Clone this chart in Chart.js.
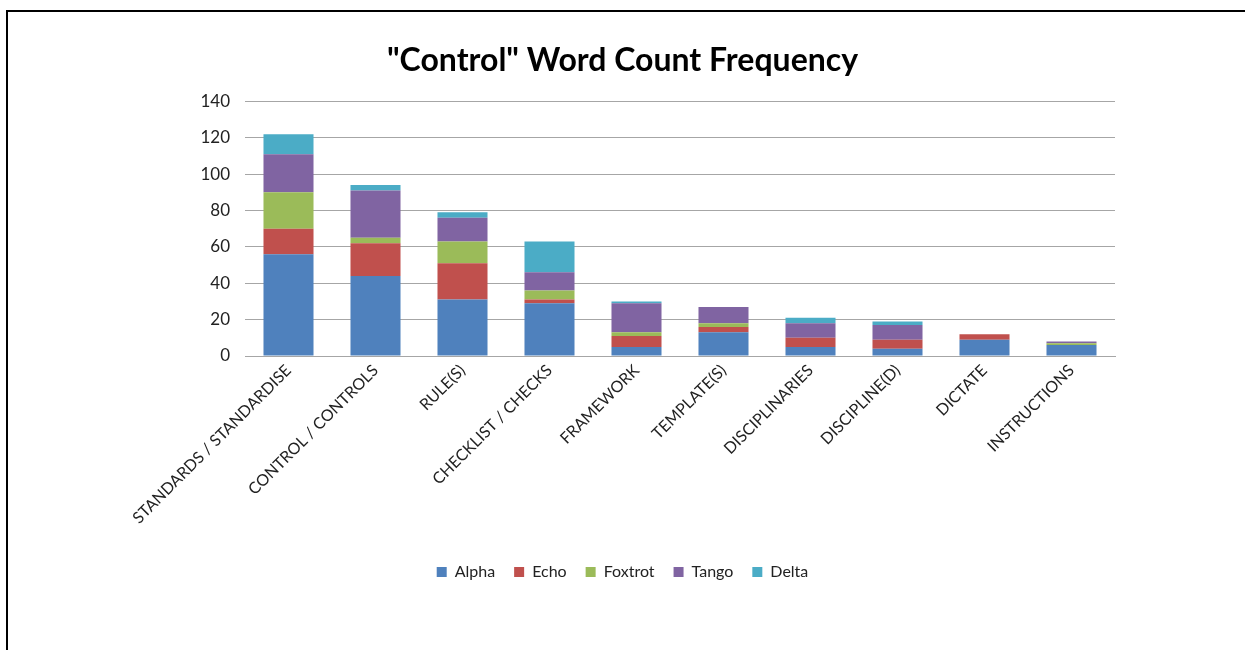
<!DOCTYPE html>
<html>
<head>
<meta charset="utf-8">
<script src="https://cdn.jsdelivr.net/npm/chart.js@4/dist/chart.umd.min.js"></script>
<style>
    html, body { margin: 0; padding: 0; background: #fff; }
    #frame {
        position: absolute; left: 6px; top: 10px; width: 1300px; height: 700px;
        border-left: 2px solid #000; border-top: 2px solid #000;
    }
    #wrap { position: absolute; left: 0; top: 0; width: 1245px; height: 650px; }
</style>
</head>
<body>
<div id="frame"></div>
<div id="wrap"><canvas id="chart" width="1245" height="650"></canvas></div>
<script>
// Chart data
const categories = [
    'STANDARDS / STANDARDISE', 'CONTROL / CONTROLS', 'RULE(S)', 'CHECKLIST / CHECKS',
    'FRAMEWORK', 'TEMPLATE(S)', 'DISCIPLINARIES', 'DISCIPLINE(D)', 'DICTATE', 'INSTRUCTIONS'
];
const alpha   = [56, 44, 31, 29, 5, 13, 5, 4, 9, 6];
const echo    = [14, 18, 20, 2, 6, 3, 5, 5, 3, 0];
const foxtrot = [20, 3, 12, 5, 2, 2, 0, 0, 0, 1];
const tango   = [21, 26, 13, 10, 16, 9, 8, 8, 0, 1];
const delta   = [11, 3, 3, 17, 1, 0, 3, 2, 0, 0];
const yTicks  = [0, 20, 40, 60, 80, 100, 120, 140];

const FONT = 'Lato, "Open Sans", sans-serif';

function series(label, data, color) {
    return {
        label: label,
        data: data,
        backgroundColor: color,
        borderWidth: 0,
        categoryPercentage: 1,
        barPercentage: 0.575
    };
}

new Chart(document.getElementById('chart').getContext('2d'), {
    type: 'bar',
    data: {
        labels: categories,
        datasets: [
            series('Alpha', alpha, '#4F81BD'),
            series('Echo', echo, '#C0504D'),
            series('Foxtrot', foxtrot, '#9BBB59'),
            series('Tango', tango, '#8064A2'),
            series('Delta', delta, '#4BACC6')
        ]
    },
    options: {
        responsive: false,
        animation: false,
        layout: { padding: { left: 0, right: 0, top: 0, bottom: 60 } },
        scales: {
            x: {
                stacked: true,
                grid: { display: false, drawTicks: false },
                border: { display: true, color: '#a6a6a6', width: 1 },
                ticks: {
                    color: '#222',
                    font: { family: FONT, size: 16 },
                    minRotation: 45,
                    maxRotation: 45,
                    autoSkip: false,
                    padding: 5
                },
                afterFit: function(scale) { scale.height = 189; }
            },
            y: {
                stacked: true,
                min: 0,
                max: 140,
                afterBuildTicks: function(scale) {
                    scale.ticks = yTicks.map(v => ({ value: v }));
                },
                grid: { color: '#a6a6a6', lineWidth: 1, drawTicks: false },
                border: { display: false },
                ticks: {
                    color: '#222',
                    font: { family: FONT, size: 17 },
                    padding: 15
                },
                afterFit: function(scale) { scale.width = 245; }
            },
            // empty axis on the right, only to keep the plot area narrow
            spacer: {
                position: 'right',
                display: true,
                grid: { display: false, drawTicks: false },
                border: { display: false },
                ticks: { display: false },
                afterFit: function(scale) { scale.width = 130; }
            }
        },
        plugins: {
            title: {
                display: true,
                text: '"Control" Word Count Frequency',
                color: '#000',
                font: { family: FONT, size: 32, weight: 'bold' },
                padding: { top: 41, bottom: 22 }
            },
            legend: {
                position: 'bottom',
                labels: {
                    color: '#222',
                    font: { family: FONT, size: 16 },
                    boxWidth: 10,
                    boxHeight: 10,
                    padding: 19
                }
            },
            tooltip: { enabled: false }
        }
    }
});
</script>
</body>
</html>
